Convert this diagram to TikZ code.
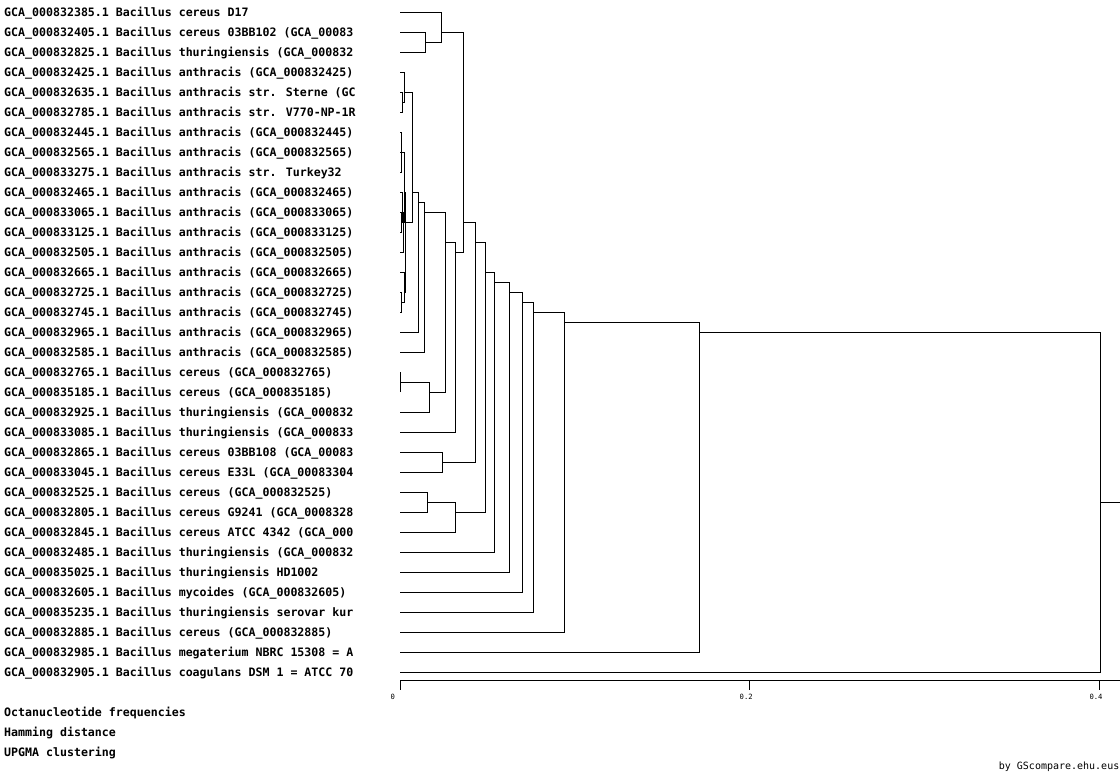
\documentclass[tikz,border=0pt]{standalone}
\usepackage{fontspec}
\newfontfamily\monofont{DejaVu Sans Mono}
\begin{document}
\begin{tikzpicture}[x=1pt,y=-1pt,
  lbl/.style={anchor=base west, inner sep=0pt, font=\monofont\bfseries\fontsize{11.6}{12}\selectfont},
  ticklbl/.style={anchor=west, inner sep=0pt, font=\monofont\fontsize{7.2}{8}\selectfont},
  credit/.style={anchor=base east, inner sep=0pt, font=\monofont\fontsize{10}{12}\selectfont},
  br/.style={line width=1pt, black}]
\fill[white] (0,0) rectangle (1120,780);
\useasboundingbox (0,0) rectangle (1120,780);
\newcommand\leafrow[3]{\coordinate (l#1) at (400.3,#2); \node[lbl] (t#1) at (4,#2+4.6) {#3};}
\newcommand\jn[3]{\draw[br] (#2) -| (#1); \draw[br] (#3) -| (#1);}
% leaves
\leafrow{0}{12}{GCA\_000832385.1 Bacillus cereus D17}
\leafrow{1}{32}{GCA\_000832405.1 Bacillus cereus 03BB102 (GCA\_00083}
\leafrow{2}{52}{GCA\_000832825.1 Bacillus thuringiensis (GCA\_000832}
\leafrow{3}{72}{GCA\_000832425.1 Bacillus anthracis (GCA\_000832425)}
\leafrow{4}{92}{GCA\_000832635.1 Bacillus anthracis str. Sterne (GC}
\leafrow{5}{112}{GCA\_000832785.1 Bacillus anthracis str. V770-NP-1R}
\leafrow{6}{132}{GCA\_000832445.1 Bacillus anthracis (GCA\_000832445)}
\leafrow{7}{152}{GCA\_000832565.1 Bacillus anthracis (GCA\_000832565)}
\leafrow{8}{172}{GCA\_000833275.1 Bacillus anthracis str. Turkey32}
\leafrow{9}{192}{GCA\_000832465.1 Bacillus anthracis (GCA\_000832465)}
\leafrow{10}{212}{GCA\_000833065.1 Bacillus anthracis (GCA\_000833065)}
\leafrow{11}{232}{GCA\_000833125.1 Bacillus anthracis (GCA\_000833125)}
\leafrow{12}{252}{GCA\_000832505.1 Bacillus anthracis (GCA\_000832505)}
\leafrow{13}{272}{GCA\_000832665.1 Bacillus anthracis (GCA\_000832665)}
\leafrow{14}{292}{GCA\_000832725.1 Bacillus anthracis (GCA\_000832725)}
\leafrow{15}{312}{GCA\_000832745.1 Bacillus anthracis (GCA\_000832745)}
\leafrow{16}{332}{GCA\_000832965.1 Bacillus anthracis (GCA\_000832965)}
\leafrow{17}{352}{GCA\_000832585.1 Bacillus anthracis (GCA\_000832585)}
\leafrow{18}{372}{GCA\_000832765.1 Bacillus cereus (GCA\_000832765)}
\leafrow{19}{392}{GCA\_000835185.1 Bacillus cereus (GCA\_000835185)}
\leafrow{20}{412}{GCA\_000832925.1 Bacillus thuringiensis (GCA\_000832}
\leafrow{21}{432}{GCA\_000833085.1 Bacillus thuringiensis (GCA\_000833}
\leafrow{22}{452}{GCA\_000832865.1 Bacillus cereus 03BB108 (GCA\_00083}
\leafrow{23}{472}{GCA\_000833045.1 Bacillus cereus E33L (GCA\_00083304}
\leafrow{24}{492}{GCA\_000832525.1 Bacillus cereus (GCA\_000832525)}
\leafrow{25}{512}{GCA\_000832805.1 Bacillus cereus G9241 (GCA\_0008328}
\leafrow{26}{532}{GCA\_000832845.1 Bacillus cereus ATCC 4342 (GCA\_000}
\leafrow{27}{552}{GCA\_000832485.1 Bacillus thuringiensis (GCA\_000832}
\leafrow{28}{572}{GCA\_000835025.1 Bacillus thuringiensis HD1002}
\leafrow{29}{592}{GCA\_000832605.1 Bacillus mycoides (GCA\_000832605)}
\leafrow{30}{612}{GCA\_000835235.1 Bacillus thuringiensis serovar kur}
\leafrow{31}{632}{GCA\_000832885.1 Bacillus cereus (GCA\_000832885)}
\leafrow{32}{652}{GCA\_000832985.1 Bacillus megaterium NBRC 15308 = A}
\leafrow{33}{672}{GCA\_000832905.1 Bacillus coagulans DSM 1 = ATCC 70}
% internal nodes
\coordinate (nA12) at (425.3,42);
\coordinate (nA) at (441.3,32);
\coordinate (nS45) at (402.7,102);
\coordinate (nS1) at (404.0,92);
\coordinate (nX1) at (401.0,162);
\coordinate (nX2) at (401.7,152);
\coordinate (nX3) at (401.3,222);
\coordinate (nX4) at (402.3,212);
\coordinate (nX5) at (403.0,222);
\coordinate (nU) at (404.0,192);
\coordinate (nW) at (401.7,302);
\coordinate (nV) at (404.3,292);
\coordinate (nT) at (405.5,222);
\coordinate (nG) at (412.3,192);
\coordinate (nF) at (418.7,202);
\coordinate (nD) at (424.7,212);
\coordinate (nE1) at (400.3,382);
\coordinate (nE) at (429.7,392);
\coordinate (nC) at (445.3,242);
\coordinate (nB) at (455.5,252);
\coordinate (nH) at (463.3,222);
\coordinate (nJ) at (442.3,462);
\coordinate (nI) at (475.3,242);
\coordinate (nK1) at (427.3,502);
\coordinate (nK) at (455.3,512);
\coordinate (nL) at (485.3,272);
\coordinate (nM) at (494.5,282);
\coordinate (nN) at (509.5,292);
\coordinate (nO) at (522.5,302);
\coordinate (nP) at (533.3,312);
\coordinate (nQ) at (564.3,322);
\coordinate (nR) at (699.7,332);
\coordinate (nRoot) at (1100.3,502);
\coordinate (rootout) at (1120,502);
% joins
\jn{nA12}{l1}{l2}
\jn{nA}{l0}{nA12}
\jn{nS45}{l4}{l5}
\jn{nS1}{l3}{nS45}
\jn{nX1}{l7}{l8}
\jn{nX2}{l6}{nX1}
\jn{nX3}{l10}{l11}
\jn{nX4}{l9}{nX3}
\jn{nX5}{nX4}{l12}
\jn{nU}{nX2}{nX5}
\jn{nW}{l14}{l15}
\jn{nV}{l13}{nW}
\jn{nT}{nU}{nV}
\jn{nG}{nS1}{nT}
\jn{nF}{nG}{l16}
\jn{nD}{nF}{l17}
\jn{nE1}{l18}{l19}
\jn{nE}{nE1}{l20}
\jn{nC}{nD}{nE}
\jn{nB}{nC}{l21}
\jn{nH}{nA}{nB}
\jn{nJ}{l22}{l23}
\jn{nI}{nH}{nJ}
\jn{nK1}{l24}{l25}
\jn{nK}{nK1}{l26}
\jn{nL}{nI}{nK}
\jn{nM}{nL}{l27}
\jn{nN}{nM}{l28}
\jn{nO}{nN}{l29}
\jn{nP}{nO}{l30}
\jn{nQ}{nP}{l31}
\jn{nR}{nQ}{l32}
\jn{nRoot}{nR}{l33}
\draw[br] (nRoot) -- (rootout);
% axis
\coordinate (ax0) at (400.3,680.3);
\coordinate (ax1) at (1120,680.3);
\draw[br] (ax0) -- (ax1);
\coordinate (tk0) at (400.3,680.3);
\coordinate (tk1) at (749.5,680.3);
\coordinate (tk2) at (1099.3,680.3);
\coordinate (tk0e) at (400.3,690.3);
\coordinate (tk1e) at (749.5,690.3);
\coordinate (tk2e) at (1099.3,690.3);
\draw[br] (tk0) -- (tk0e);
\draw[br] (tk1) -- (tk1e);
\draw[br] (tk2) -- (tk2e);
\node[ticklbl] (v0) at (390.3,696.5) {0};
\node[ticklbl] (v1) at (739.5,696.5) {0.2};
\node[ticklbl] (v2) at (1089.3,696.5) {0.4};
% footer
\node[lbl] (f1) at (4,716.6) {Octanucleotide frequencies};
\node[lbl] (f2) at (4,736.6) {Hamming distance};
\node[lbl] (f3) at (4,756.6) {UPGMA clustering};
\node[credit] (cr) at (1119.5,769.5) {by GScompare.ehu.eus};
\end{tikzpicture}
\end{document}
